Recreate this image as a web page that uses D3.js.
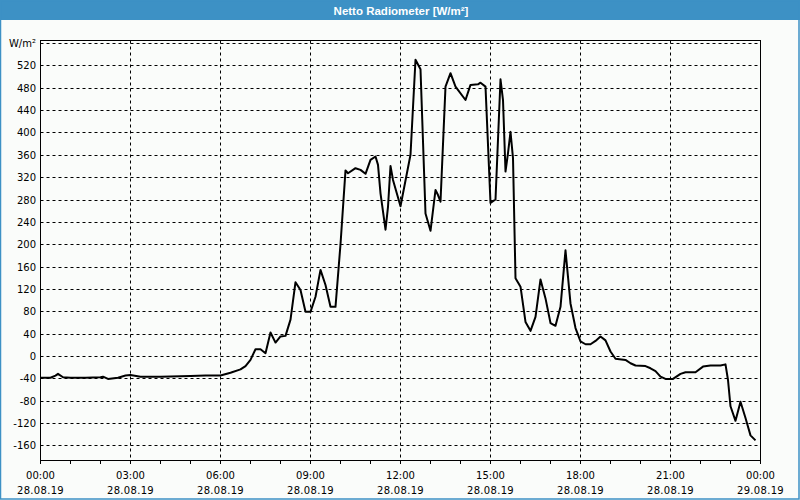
<!DOCTYPE html>
<html>
<head>
<meta charset="utf-8">
<script src="https://cdn.jsdelivr.net/npm/d3@7"></script>
<style>
  html, body { margin: 0; padding: 0; background: #fafcfa; }
  svg { display: block; }
</style>
</head>
<body>
<svg id="chart" width="800" height="500"></svg>
<script>
// ---- data ----
const chartTitle = "Netto Radiometer [W/m²]";
const unitLabel = "W/m²";
const dayStart = "2019-08-28";
const dayEnd = "2019-08-29";
const times = [
  "00:00","00:20","00:30","00:35","00:45","01:00","01:30","02:00","02:05","02:15",
  "02:35","02:50","03:00","03:20","04:00","05:00","05:30","06:00","06:20","06:40",
  "06:50","07:00","07:10","07:20","07:30","07:40","07:50","08:00","08:10","08:20",
  "08:30","08:40","08:50","09:00","09:10","09:20","09:30","09:40","09:50","10:00",
  "10:10","10:15","10:30","10:40","10:50","11:00","11:10","11:15","11:20","11:30",
  "11:35","11:40","11:45","12:00","12:20","12:30","12:40","12:50","13:00","13:10",
  "13:15","13:20","13:30","13:40","13:50","14:10","14:20","14:35","14:40","14:50",
  "15:00","15:10","15:20","15:25","15:30","15:35","15:40","15:45","15:50","16:00",
  "16:10","16:20","16:30","16:40","16:50","17:00","17:10","17:20","17:30","17:40",
  "17:50","18:00","18:10","18:20","18:30","18:40","18:50","19:00","19:10","19:30",
  "19:40","19:50","20:10","20:20","20:30","20:40","20:50","21:05","21:20","21:30",
  "21:50","22:05","22:20","22:40","22:50","22:55","23:00","23:10","23:20","23:30",
  "23:40","23:50"
];
const values = [
  -39,-39,-35,-32,-38,-39,-39,-38,-37,-41,
  -39,-35,-34,-37,-37,-36,-35,-35,-30,-24,
  -18,-7,12,12,5,42,24,35,36,65,
  132,118,79,79,106,154,127,88,88,200,
  332,327,336,333,326,351,357,342,291,226,
  267,340,315,268,360,530,513,255,224,297,
  288,276,482,506,482,458,485,486,489,482,
  274,280,495,458,330,363,401,354,139,124,
  61,45,70,137,103,59,54,88,189,94,
  50,26,21,21,27,35,28,8,-5,-7,
  -13,-17,-18,-22,-27,-37,-41,-41,-32,-29,
  -29,-19,-17,-17,-15,-43,-90,-116,-82,-111,
  -142,-151
];
const yTicks = [-160,-120,-80,-40,0,40,80,120,160,200,240,280,320,360,400,440,480,520];
const yTopGrid = 560;
const xMajorHours = [0,3,6,9,12,15,18,21,24];
const xMinorHours = [1,2,4,5,7,8,10,11,13,14,16,17,19,20,22,23];

// ---- layout ----
const W = 800, H = 500;
const pL = 40.5, pR = 760.5, pT = 40.5, pB = 460.5;
const svg = d3.select("#chart");
const font = "'DejaVu Sans', Tahoma, sans-serif";

const parse = d3.timeParse("%Y-%m-%d %H:%M");
const t0 = parse(dayStart + " 00:00"), t1 = parse(dayEnd + " 00:00");
const x = d3.scaleTime().domain([t0, t1]).range([pL, pR]);
const y = d3.scaleLinear().domain([-187, 564.5]).range([pB, pT]);
const hourDate = h => d3.timeHour.offset(t0, h);

// background & window frame
svg.append("rect").attr("x", 0).attr("y", 0).attr("width", W).attr("height", H).attr("fill", "#fafcfa");
svg.append("rect").attr("x", 0).attr("y", 0).attr("width", W).attr("height", 20).attr("fill", "#3d91c5");
svg.append("rect").attr("x", 0.5).attr("y", 0.5).attr("width", W - 1.5).attr("height", H - 1.5)
  .attr("fill", "none").attr("stroke", "#3d91c5").attr("stroke-width", 1.5);
svg.append("text").attr("x", 401).attr("y", 14.5).attr("text-anchor", "middle")
  .attr("font-family", "'Liberation Sans', Arial, sans-serif").attr("font-weight", "bold")
  .attr("font-size", 11.5).attr("fill", "#ffffff").text(chartTitle);

// grid
const grid = svg.append("g").attr("stroke", "#000").attr("stroke-width", 1).attr("stroke-dasharray", "3,3");
grid.selectAll("line.h").data(yTicks.concat([yTopGrid])).join("line")
  .attr("x1", pL).attr("x2", pR)
  .attr("y1", d => Math.round(y(d)) + 0.5).attr("y2", d => Math.round(y(d)) + 0.5);
grid.selectAll("line.v").data(xMajorHours.filter(h => h > 0 && h < 24)).join("line")
  .attr("x1", d => x(hourDate(d))).attr("x2", d => x(hourDate(d)))
  .attr("y1", pT).attr("y2", pB);

// frame
svg.append("rect").attr("x", pL).attr("y", pT).attr("width", pR - pL).attr("height", pB - pT)
  .attr("fill", "none").attr("stroke", "#000").attr("stroke-width", 1);

// x ticks
const xt = svg.append("g").attr("stroke", "#000").attr("stroke-width", 1);
xt.selectAll("line").data(xMajorHours.concat(xMinorHours)).join("line")
  .attr("x1", d => x(hourDate(d))).attr("x2", d => x(hourDate(d)))
  .attr("y1", pB).attr("y2", pB + 3.5);

// x labels
const fmtTime = d3.timeFormat("%H:%M"), fmtDate = d3.timeFormat("%d.%m.%y");
const xl = svg.append("g").attr("font-family", font).attr("font-size", 10).attr("fill", "#000").attr("text-anchor", "middle");
xMajorHours.forEach(h => {
  const d = hourDate(h);
  xl.append("text").attr("x", x(d)).attr("y", 479).text(fmtTime(d));
  xl.append("text").attr("x", x(d)).attr("y", 494).attr("letter-spacing", 0.3).text(fmtDate(d));
});

// y labels
const yl = svg.append("g").attr("font-family", font).attr("font-size", 10).attr("fill", "#000").attr("text-anchor", "end");
yl.selectAll("text").data(yTicks).join("text")
  .attr("x", 36).attr("y", d => y(d) + 4).text(d => d);
yl.append("text").attr("x", 36).attr("y", y(yTopGrid) + 4).text(unitLabel);

// line
svg.append("clipPath").attr("id", "clip").append("rect")
  .attr("x", pL).attr("y", pT).attr("width", pR - pL).attr("height", pB - pT);
const pts = times.map((t, i) => ({ d: parse(dayStart + " " + t), v: values[i] }));
svg.append("path").datum(pts).attr("clip-path", "url(#clip)")
  .attr("fill", "none").attr("stroke", "#000").attr("stroke-width", 2).attr("stroke-linejoin", "round")
  .attr("d", d3.line().x(p => x(p.d)).y(p => y(p.v)));
</script>
</body>
</html>
